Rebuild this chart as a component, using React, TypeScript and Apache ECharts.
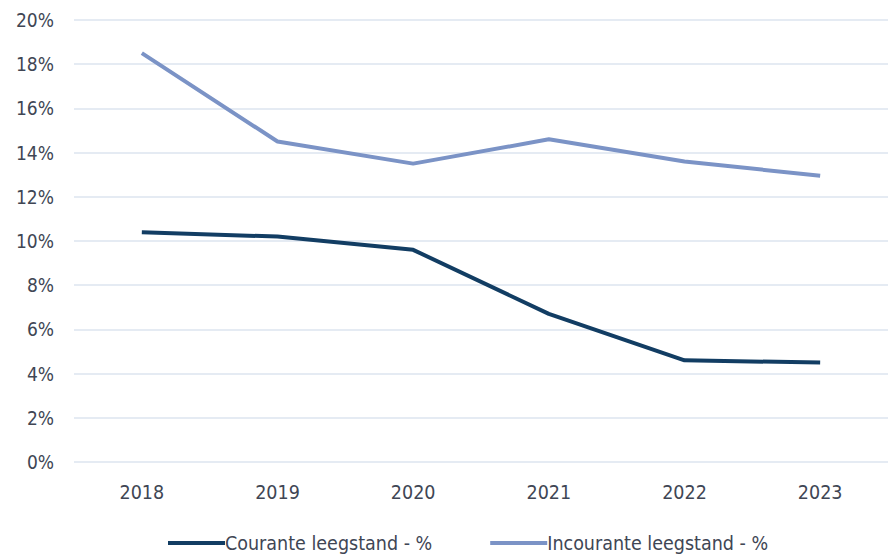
import React, { useEffect, useRef } from "react";
import * as echarts from "echarts";

const years = ["2018", "2019", "2020", "2021", "2022", "2023"];
const courante = [10.4, 10.2, 9.6, 6.7, 4.6, 4.5];
const incourante = [18.5, 14.5, 13.5, 14.6, 13.6, 12.95];
const seriesNames = ["Courante leegstand - %", "Incourante leegstand - %"];
const colors = ["#123d63", "#7b93c6"];

const FONT = "'DejaVu Sans Condensed', 'Liberation Sans Narrow', 'Open Sans', sans-serif";

export default function App() {
  const ref = useRef<HTMLDivElement>(null);
  useEffect(() => {
    if (!ref.current) return;
    const chart = echarts.init(ref.current, undefined, { renderer: "svg" });
    chart.setOption({
      animation: false,
      backgroundColor: "#ffffff",
      color: colors,
      textStyle: { fontFamily: FONT },
      grid: { left: 74, top: 20, width: 825, height: 442, containLabel: false },
      legend: {
        bottom: 0,
        left: 163,
        itemWidth: 57,
        itemHeight: 4,
        itemGap: 58,
        icon: "rect",
        textStyle: { fontSize: 19.5, color: "#404654", fontFamily: FONT, padding: [0, 0, 0, -5] },
        data: seriesNames,
      },
      xAxis: {
        type: "category",
        data: years,
        boundaryGap: true,
        axisLine: { show: false },
        axisTick: { show: false },
        axisLabel: { fontSize: 19.5, color: "#404654", margin: 20, fontFamily: FONT },
      },
      yAxis: {
        type: "value",
        min: 0,
        max: 20,
        interval: 2,
        axisLine: { show: false },
        axisTick: { show: false },
        axisLabel: { fontSize: 19, color: "#404654", margin: 20, formatter: "{value}%", fontFamily: FONT },
        splitLine: { lineStyle: { color: "#dde5ef", width: 1.5 } },
      },
      series: [
        {
          name: seriesNames[0],
          type: "line",
          data: courante,
          symbol: "none",
          lineStyle: { width: 4, color: colors[0] },
          itemStyle: { color: colors[0] },
        },
        {
          name: seriesNames[1],
          type: "line",
          data: incourante,
          symbol: "none",
          lineStyle: { width: 4, color: colors[1] },
          itemStyle: { color: colors[1] },
        },
      ],
    });
    return () => chart.dispose();
  }, []);
  return (
    <div
      ref={ref}
      style={{ position: "fixed", left: 0, top: 0, width: 888, height: 558, background: "#fff" }}
    />
  );
}
